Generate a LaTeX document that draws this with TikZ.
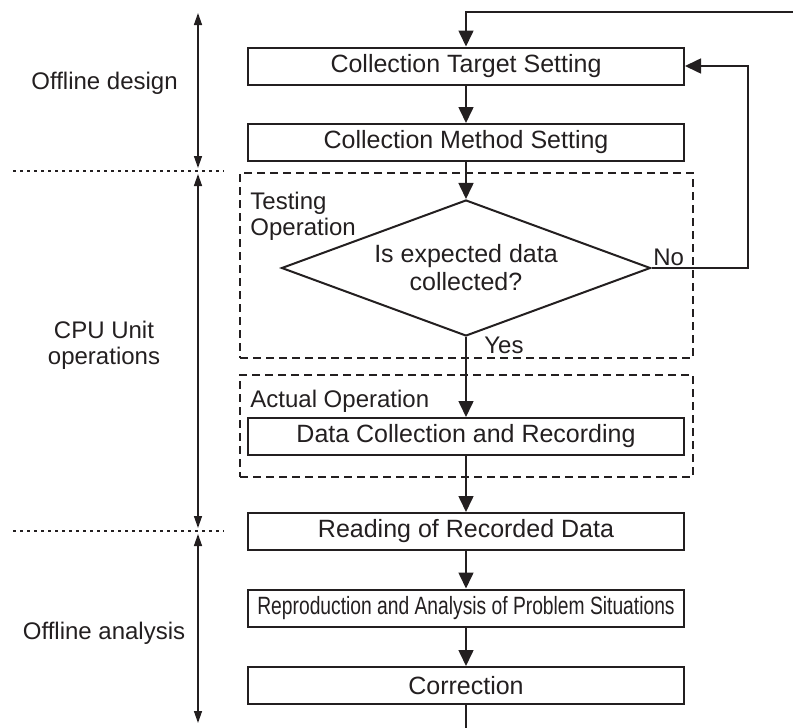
\documentclass[tikz,border=0pt]{standalone}
\usepackage{fontspec}
\setmainfont{Liberation Sans}
\usepackage{tikz}
\usetikzlibrary{shapes.geometric,arrows.meta}
\definecolor{ink}{HTML}{231F20}

\begin{document}
\begin{tikzpicture}[x=0.5pt, y=-0.5pt, every node/.style={font=\fontsize{12}{13}\selectfont, text=ink},
  stepbox/.style={draw=ink, line width=1pt, minimum width=218pt, minimum height=18.5pt, inner sep=0pt, font=\fontsize{12.5}{14}\selectfont},
  decision/.style={diamond, draw=ink, line width=1pt, aspect=2.7, minimum width=184.5pt, minimum height=68pt, inner sep=0pt, align=center, font=\fontsize{12.5}{14}\selectfont},
  groupbox/.style={draw=ink, line width=0.6pt, dash pattern=on 4pt off 2.5pt, minimum width=226.5pt, inner sep=0pt},
  tag/.style={inner sep=0pt, align=left},
  flow/.style={draw=ink, line width=0.8pt, -{Triangle[length=8pt,width=7.5pt]}},
  span/.style={draw=ink, line width=0.7pt, {Triangle[length=6pt,width=4pt]}-{Triangle[length=6pt,width=4pt]}},
  phase/.style={draw=ink, line width=0.6pt, dash pattern=on 1.5pt off 2pt}]
  \useasboundingbox (0,0) rectangle (793,728);

  % phases on the left
  \node (design) at (104.5,83) {Offline design};
  \node[align=center] (cpu) at (104,345) {CPU Unit\\operations};
  \node (analysis) at (104,633) {Offline analysis};
  \coordinate (p0) at (198,13);
  \coordinate (p1a) at (198,168);
  \coordinate (p1b) at (198,174);
  \coordinate (p2a) at (198,528);
  \coordinate (p2b) at (198,534);
  \coordinate (p3) at (198,723);
  \coordinate (cut1l) at (13,171);
  \coordinate (cut1r) at (224,171);
  \coordinate (cut2l) at (13,531);
  \coordinate (cut2r) at (224,531);
  \draw[span] (p0) -- (p1a);
  \draw[span] (p1b) -- (p2a);
  \draw[span] (p2b) -- (p3);
  \draw[phase] (cut1l) -- (cut1r);
  \draw[phase] (cut2l) -- (cut2r);

  % flow
  \node[stepbox] (target) at (466,66) {Collection Target Setting};
  \node[stepbox] (method) at (466,142.5) {Collection Method Setting};
  \node[groupbox, minimum height=92.5pt] (testgrp) at (466.5,265.5) {};
  \node[tag, anchor=north west] (testlbl) at (250,192) {Testing\\Operation};
  \node[decision] (check) at (466,268) {Is expected data\\collected?};
  \node[groupbox, minimum height=51pt] (actgrp) at (466.5,426) {};
  \node[tag, anchor=north west] (actlbl) at (250,390) {Actual Operation};
  \node[stepbox] (collect) at (466,436.5) {Data Collection and Recording};
  \node[stepbox] (read) at (466,531.5) {Reading of Recorded Data};
  \node[stepbox] (analyse) at (466,608) {\scalebox{0.77}[1]{Reproduction and Analysis of Problem Situations}};
  \node[stepbox] (fix) at (466,685.5) {Correction};
  \node[tag, anchor=west] (yes) at (484,345) {Yes};
  \node[tag, anchor=west] (no) at (653,257) {No};
  \coordinate (looptop) at (800,12);
  \coordinate (loopbot) at (466,740);
  \coordinate (nocorner) at (748,66);

  \draw[flow] (target) -- (method);
  \draw[flow] (method) -- (check);
  \draw[flow] (check) -- (collect);
  \draw[flow] (collect) -- (read);
  \draw[flow] (read) -- (analyse);
  \draw[flow] (analyse) -- (fix);
  \draw[draw=ink, line width=0.8pt] (fix) -- (loopbot);
  \draw[flow] (looptop) -| (target);
  \draw[flow] (check.east) -| (nocorner) -- (target.east);
\end{tikzpicture}
\end{document}
